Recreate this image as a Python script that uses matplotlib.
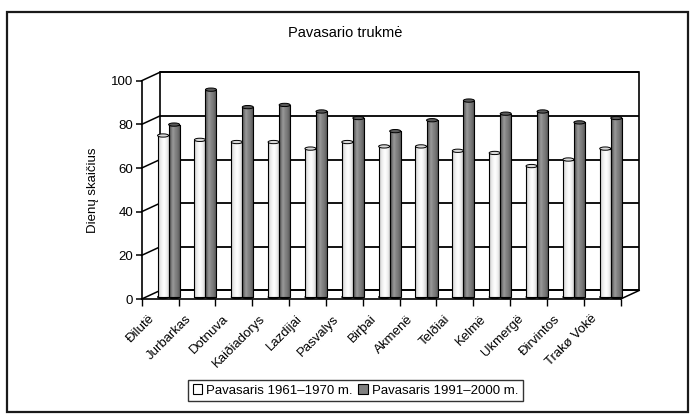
import numpy as np
import matplotlib
matplotlib.use("Agg")
import matplotlib.pyplot as plt
from matplotlib.patches import Rectangle, Ellipse, Patch
from matplotlib.colors import LinearSegmentedColormap

plt.rcParams['font.family'] = ['Liberation Sans', 'DejaVu Sans']

# --- data -------------------------------------------------------------
stations = ["Ðilutë", "Jurbarkas", "Dotnuva", "Kaiðiadorys", "Lazdijai", "Pasvalys",
            "Birþai", "Akmenë", "Telðiai", "Kelmë", "Ukmergë", "Ðirvintos", "Trakø Vokë"]
spring_1961_1970 = [74, 72, 71, 71, 68, 71, 69, 69, 67, 66, 60, 63, 68]
spring_1991_2000 = [79, 95, 87, 88, 85, 82, 76, 81, 90, 84, 85, 80, 82]
series_names = ["Pavasaris 1961–1970 m.", "Pavasaris 1991–2000 m."]
y_ticks = [0, 20, 40, 60, 80, 100]

# --- figure -----------------------------------------------------------
W, H = 694, 415
fig = plt.figure(figsize=(W / 100, H / 100), dpi=100)

# outer chart frame
fig.patches.append(Rectangle((7 / W, 1 - 412 / H), 681 / W, 400 / H,
                             transform=fig.transFigure, fill=False,
                             ec="#1a1a1a", lw=1.6))

fig.text(345 / W, 1 - 33 / H, "Pavasario trukmė", ha="center", va="center", fontsize=10.5)

# front plane of the pseudo-3D plot box
x0, x1, y0, y1 = 141.7, 620.7, 299.0, 80.7
ax = fig.add_axes([x0 / W, 1 - y0 / H, (x1 - x0) / W, (y0 - y1) / H])
n = len(stations)
ax.set_xlim(0, n)
ax.set_ylim(0, 100)
ax.patch.set_visible(False)

DX, DY = 0.50, 3.9     # depth offset of the back wall (category units, value units)
OX, OY = 0.23, 0.9     # bars sit half-way into the depth
BW = 0.30              # width of one bar

# back wall, side wall and floor
ax.add_patch(Rectangle((DX, DY), n, 100, fc="white", ec="black", lw=1.2,
                       clip_on=False, zorder=0.5))
for v in y_ticks:
    ax.plot([DX, n + DX], [v + DY, v + DY], color="black", lw=1.3,
            clip_on=False, zorder=0.6, solid_capstyle="butt")
    ax.plot([0, DX], [v, v + DY], color="black", lw=1.1, clip_on=False, zorder=0.6)
ax.plot([n, n + DX], [0, DY], color="black", lw=1.1, clip_on=False, zorder=0.6)

# cylinder shading
white_cmap = LinearSegmentedColormap.from_list(
    "w", ["#bdbdbd", "#e4e4e4", "#f4f4f4", "#ffffff", "#f6f6f6", "#e2e2e2", "#c4c4c4"])
dark_cmap = LinearSegmentedColormap.from_list(
    "d", ["#4e4e4e", "#727272", "#9a9a9a", "#868686", "#7a7a7a", "#666666", "#4a4a4a"])
grad = np.linspace(0, 1, 64).reshape(1, -1)

idx = np.arange(n) + 0.5 + OX
for vals, xs, cmap, cap in [
        (spring_1961_1970, idx - BW / 2, white_cmap, "#d8d8d8"),
        (spring_1991_2000, idx + BW / 2, dark_cmap, "#5a5a5a")]:
    bars = ax.bar(xs, vals, width=BW, bottom=OY, fc="none", ec="black", lw=0.8,
                  zorder=2.2, clip_on=False)
    for r in bars:
        bx, bw = r.get_x(), r.get_width()
        by, bh = r.get_y(), r.get_height()
        im = ax.imshow(grad, cmap=cmap, aspect="auto", extent=[bx, bx + bw, by, by + bh],
                       zorder=2.0, interpolation="bilinear")
        im.set_clip_path(r)
        im.set_clip_on(True)
        ax.add_patch(Ellipse((bx + bw / 2, by + bh), bw, 1.5, fc=cap, ec="black",
                             lw=0.7, zorder=2.4, clip_on=False))
        ax.add_patch(Ellipse((bx + bw / 2, by), bw, 1.5, fc=cap, ec="black",
                             lw=0.7, zorder=1.9, clip_on=False))
ax.set_xlim(0, n)
ax.set_ylim(0, 100)

# axes: value axis on the left, category axis along the floor front edge
for s in ["top", "right"]:
    ax.spines[s].set_visible(False)
for s in ["left", "bottom"]:
    ax.spines[s].set_linewidth(1.2)
    ax.spines[s].set_zorder(3)
ax.set_yticks(y_ticks)
ax.set_yticklabels([str(v) for v in y_ticks], fontsize=9.5)
ax.tick_params(axis="y", direction="out", length=4, width=1.1, pad=2)
ax.set_xticks(np.arange(n + 1))
ax.set_xticklabels([])
ax.tick_params(axis="x", direction="out", length=5, width=1.0)
for i, name in enumerate(stations):
    ax.annotate(name, xy=(i + 0.5, 0), xycoords="data", xytext=(-7, -18),
                textcoords="offset pixels", rotation=45, ha="right", va="center",
                rotation_mode="anchor", fontsize=9.5, annotation_clip=False)

fig.text(93 / W, 1 - 190 / H, "Dienų skaičius", rotation=90, ha="center",
         va="center", fontsize=9.5)

handles = [Patch(fc="white", ec="black", lw=0.8), Patch(fc="#808080", ec="black", lw=0.8)]
leg = fig.legend(handles, series_names, loc="center",
                 bbox_to_anchor=(355.5 / W, 1 - 390.5 / H), ncol=2, fontsize=9.5,
                 frameon=True, fancybox=False, edgecolor="black", handlelength=0.75,
                 handleheight=0.75, handletextpad=0.3, columnspacing=0.4,
                 borderpad=0.35, borderaxespad=0)
leg.get_frame().set_linewidth(1.0)

fig.savefig("out.png", dpi=100)
